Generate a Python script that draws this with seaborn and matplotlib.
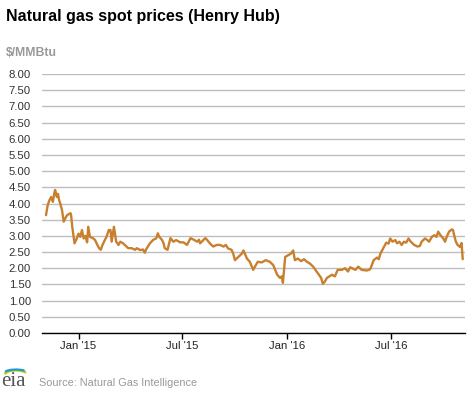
import matplotlib
matplotlib.use("Agg")
import matplotlib.pyplot as plt
from matplotlib.patches import Arc
import seaborn as sns
import pandas as pd

# ---- data ----
dates = [
    "2014-11-05", "2014-11-08", "2014-11-11", "2014-11-14", "2014-11-17", "2014-11-20",
    "2014-11-21", "2014-11-24", "2014-11-26", "2014-11-28", "2014-11-30", "2014-12-03",
    "2014-12-06", "2014-12-09", "2014-12-12", "2014-12-18", "2014-12-19", "2014-12-21",
    "2014-12-25", "2014-12-29", "2015-01-01", "2015-01-04", "2015-01-07", "2015-01-10",
    "2015-01-13", "2015-01-16", "2015-01-18", "2015-01-21", "2015-01-27", "2015-01-30",
    "2015-02-03", "2015-02-06", "2015-02-09", "2015-02-12", "2015-02-16", "2015-02-19",
    "2015-02-23", "2015-02-26", "2015-02-28", "2015-03-04", "2015-03-08", "2015-03-12",
    "2015-03-15", "2015-03-20", "2015-03-23", "2015-03-29", "2015-04-04", "2015-04-10",
    "2015-04-13", "2015-04-19", "2015-04-24", "2015-04-27", "2015-04-30", "2015-05-06",
    "2015-05-12", "2015-05-17", "2015-05-20", "2015-05-22", "2015-05-27", "2015-05-30",
    "2015-06-01", "2015-06-06", "2015-06-08", "2015-06-11", "2015-06-16", "2015-06-21",
    "2015-06-28", "2015-07-04", "2015-07-10", "2015-07-13", "2015-07-16", "2015-07-22",
    "2015-07-28", "2015-07-31", "2015-08-02", "2015-08-11", "2015-08-14", "2015-08-19",
    "2015-08-25", "2015-08-31", "2015-09-06", "2015-09-12", "2015-09-16", "2015-09-20",
    "2015-09-26", "2015-09-29", "2015-10-02", "2015-10-08", "2015-10-14", "2015-10-17",
    "2015-10-23", "2015-10-28", "2015-11-03", "2015-11-06", "2015-11-11", "2015-11-18",
    "2015-11-25", "2015-12-02", "2015-12-08", "2015-12-15", "2015-12-20", "2015-12-23",
    "2015-12-25", "2015-12-29", "2016-01-03", "2016-01-08", "2016-01-12", "2016-01-15",
    "2016-01-20", "2016-01-26", "2016-01-31", "2016-02-05", "2016-02-10", "2016-02-16",
    "2016-02-24", "2016-03-01", "2016-03-04", "2016-03-08", "2016-03-11", "2016-03-20",
    "2016-03-25", "2016-03-30", "2016-04-06", "2016-04-12", "2016-04-17", "2016-04-21",
    "2016-04-30", "2016-05-05", "2016-05-11", "2016-05-20", "2016-05-26", "2016-06-01",
    "2016-06-07", "2016-06-10", "2016-06-13", "2016-06-16", "2016-06-19", "2016-06-23",
    "2016-06-27", "2016-06-30", "2016-07-04", "2016-07-09", "2016-07-12", "2016-07-16",
    "2016-07-20", "2016-07-24", "2016-07-28", "2016-08-01", "2016-08-05", "2016-08-11",
    "2016-08-17", "2016-08-21", "2016-08-24", "2016-08-30", "2016-09-03", "2016-09-06",
    "2016-09-11", "2016-09-15", "2016-09-19", "2016-09-22", "2016-09-26", "2016-10-01",
    "2016-10-04", "2016-10-07", "2016-10-11", "2016-10-16", "2016-10-18", "2016-10-20",
    "2016-10-23", "2016-10-26", "2016-10-30", "2016-11-02", "2016-11-04",
]
prices = [
    3.64, 3.95, 4.10, 4.20, 4.05, 4.36,
    4.42, 4.20, 4.30, 4.10, 4.00, 3.80,
    3.44, 3.55, 3.64, 3.70, 3.64, 3.28,
    2.77, 2.92, 3.07, 2.97, 3.18, 2.92,
    3.00, 2.80, 3.28, 2.97, 2.92, 2.87,
    2.72, 2.62, 2.57, 2.72, 2.87, 2.97,
    3.18, 3.18, 2.82, 3.28, 2.82, 2.72,
    2.82, 2.77, 2.72, 2.62, 2.62, 2.57,
    2.62, 2.56, 2.58, 2.48, 2.60, 2.77,
    2.88, 2.92, 3.08, 2.98, 2.88, 2.77,
    2.62, 2.57, 2.72, 2.93, 2.82, 2.87,
    2.80, 2.80, 2.72, 2.82, 2.93, 2.88,
    2.82, 2.88, 2.77, 2.93, 2.88, 2.77,
    2.67, 2.72, 2.72, 2.67, 2.72, 2.61,
    2.57, 2.45, 2.25, 2.35, 2.45, 2.55,
    2.30, 2.20, 1.95, 2.05, 2.20, 2.18,
    2.25, 2.20, 2.10, 1.80, 1.70, 1.75,
    1.55, 2.35, 2.40, 2.45, 2.55, 2.25,
    2.30, 2.22, 2.28, 2.20, 2.15, 2.05,
    1.85, 1.70, 1.52, 1.60, 1.70, 1.80,
    1.75, 1.95, 1.95, 2.00, 1.90, 2.03,
    1.95, 2.05, 1.95, 1.93, 1.97, 2.25,
    2.33, 2.28, 2.46, 2.56, 2.66, 2.79,
    2.76, 2.92, 2.82, 2.87, 2.77, 2.82,
    2.72, 2.82, 2.79, 2.92, 2.82, 2.72,
    2.67, 2.69, 2.82, 2.92, 2.87, 2.82,
    2.97, 3.02, 2.97, 3.13, 3.02, 2.92,
    2.82, 2.97, 3.13, 3.20, 3.18, 3.02,
    2.82, 2.72, 2.66, 2.78, 2.28,
]
y_ticks = [0, 0.5, 1, 1.5, 2, 2.5, 3, 3.5, 4, 4.5, 5, 5.5, 6, 6.5, 7, 7.5, 8]
x_tick_dates = ["2015-01-01", "2015-07-01", "2016-01-01", "2016-07-01"]
x_tick_labels = ["Jan '15", "Jul '15", "Jan '16", "Jul '16"]
title = "Natural gas spot prices (Henry Hub)"
units = "$/MMBtu"
source = "Source: Natural Gas Intelligence"

df = pd.DataFrame({"date": pd.to_datetime(dates), "price": prices})

sns.set_style("white")
plt.rcParams["font.family"] = ["Liberation Sans", "DejaVu Sans"]

fig = plt.figure(figsize=(4.77, 3.93), dpi=100)
ax = fig.add_axes([42 / 477, 1 - 333 / 393, (465 - 42) / 477, (333 - 74) / 393])

sns.lineplot(data=df, x="date", y="price", ax=ax, color="#c8802e", linewidth=1.7)

ax.set_ylim(0, 8)
ax.set_xlim(pd.Timestamp("2014-10-29"), pd.Timestamp("2016-11-08"))
ax.set_yticks(y_ticks)
ax.set_yticklabels([f"{v:.2f}" for v in y_ticks], color="#333333", fontsize=8.2)
ax.set_xticks(pd.to_datetime(x_tick_dates))
ax.set_xticklabels(x_tick_labels, color="#222222", fontsize=8.2)
ax.set_xlabel("")
ax.set_ylabel("")

ax.grid(axis="y", color="#bdbdbd", linewidth=1.0)
ax.grid(axis="x", visible=False)
ax.set_axisbelow(True)
for s in ["top", "right", "left"]:
    ax.spines[s].set_visible(False)
ax.spines["bottom"].set_color("black")
ax.spines["bottom"].set_linewidth(1.0)
ax.spines["bottom"].set_zorder(3)
ax.tick_params(axis="x", length=4.5, width=1, color="black", pad=1, direction="out", bottom=True)
ax.tick_params(axis="y", length=0, pad=8)

fig.text(6 / 477, 1 - 17 / 393, title, fontsize=11.5, fontweight="bold",
         color="black", va="center", ha="left")
fig.text(6 / 477, 1 - 53 / 393, units, fontsize=8.8, fontweight="bold",
         color="#999999", va="center", ha="left")
fig.text(39 / 477, 1 - 383 / 393, source, fontsize=7.8, color="#999999",
         va="center", ha="left")

# EIA logo approximation
fig.text(1 / 477, 1 - 382 / 393, "eia", fontsize=15, color="#555555",
         family="Liberation Serif", va="center", ha="left")
for i, c in enumerate(["#f2c200", "#7cc242", "#1a9bd7"]):
    arc = Arc((16 / 477, 1 - (376 - i * 1.5) / 393), 24 / 477, (11 - i * 2) / 393,
              theta1=20, theta2=170, color=c, linewidth=1.5,
              transform=fig.transFigure)
    fig.add_artist(arc)

fig.savefig("out.png", dpi=100)
